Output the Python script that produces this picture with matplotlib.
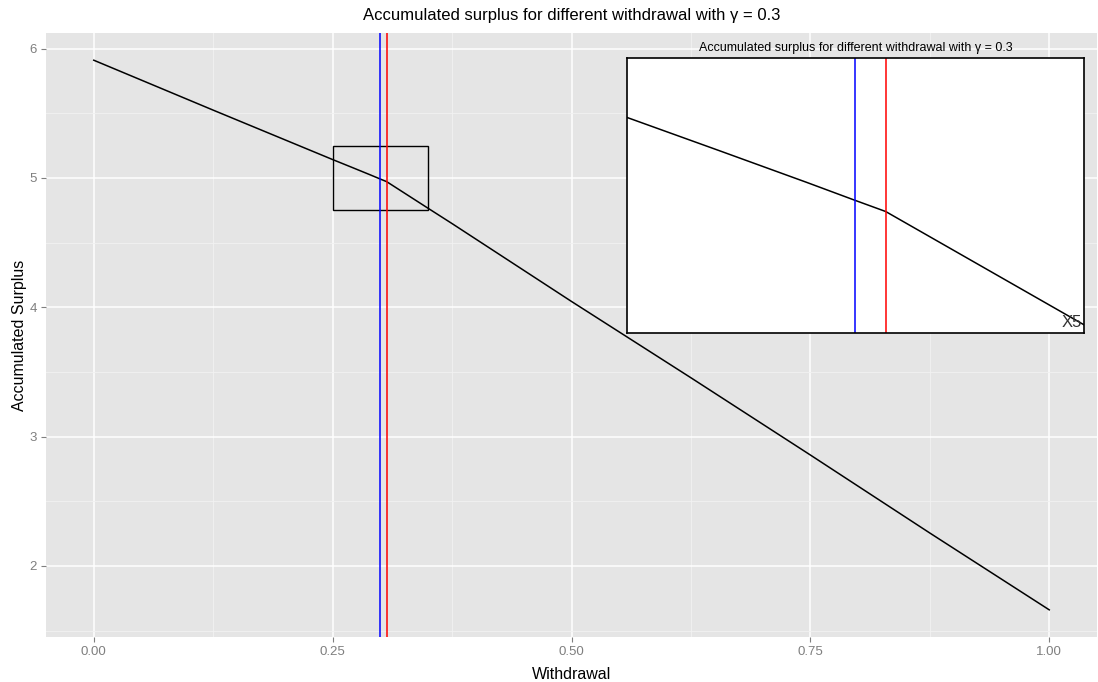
import matplotlib
matplotlib.use("Agg")
import matplotlib.pyplot as plt
from matplotlib.patches import Rectangle
from matplotlib.ticker import MultipleLocator

plt.rcParams.update({
    "font.family": ["Liberation Sans", "DejaVu Sans"],
    "font.size": 11,
})

# accumulated surplus against withdrawal rate
withdrawal = [0.0, 0.125, 0.25, 0.2704, 0.2893, 0.300, 0.3066,
              0.35, 0.375, 0.5, 0.625, 0.75, 0.875, 1.0]
surplus = [5.91, 5.524, 5.142, 5.081, 5.024, 4.991, 4.971,
           4.765, 4.647, 4.045, 3.455, 2.858, 2.255, 1.661]

gamma = 0.3
blue_x = 0.300     # blue reference withdrawal
red_x = 0.3066     # red reference withdrawal
zoom_x = (0.25, 0.35)
zoom_y = (4.75, 5.25)
zoom_factor = 5

title = f"Accumulated surplus for different withdrawal with \u03b3 = {gamma}"

PANEL = "#E5E5E5"
TICK = "#7F7F7F"

fig = plt.figure(figsize=(10.98, 6.82), dpi=100)
ax = fig.add_axes([0.0419, 0.0655, 0.9572, 0.8865])
ax.set_facecolor(PANEL)

ax.plot(withdrawal, surplus, color="black", lw=1.1)
ax.axvline(blue_x, color="#0000FF", lw=1.1)
ax.axvline(red_x, color="#FF0000", lw=1.1)
ax.add_patch(Rectangle((zoom_x[0], zoom_y[0]), zoom_x[1] - zoom_x[0],
                       zoom_y[1] - zoom_y[0], fill=False, ec="black", lw=1.0))

span = max(surplus) - min(surplus)
ax.set_xlim(-0.05, 1.05)
ax.set_ylim(min(surplus) - 0.05 * span, max(surplus) + 0.05 * span)

ax.xaxis.set_major_locator(MultipleLocator(0.25))
ax.xaxis.set_minor_locator(MultipleLocator(0.125))
ax.yaxis.set_major_locator(MultipleLocator(1))
ax.yaxis.set_minor_locator(MultipleLocator(0.5))
ax.xaxis.set_major_formatter(lambda v, p: f"{v:.2f}")
ax.yaxis.set_major_formatter(lambda v, p: f"{v:.0f}")
ax.grid(which="major", color="white", lw=1.1)
ax.grid(which="minor", color="#F2F2F2", lw=0.6)
ax.set_axisbelow(True)
for s in ax.spines.values():
    s.set_visible(False)
ax.tick_params(which="major", length=3.5, width=0.8, color=TICK,
               labelcolor=TICK, labelsize=9.5, pad=3)
ax.tick_params(which="minor", length=0)

ax.set_xlabel("Withdrawal", fontsize=11.5, labelpad=6)
ax.set_ylabel("Accumulated Surplus", fontsize=11.5, labelpad=2)
ax.set_title(title, fontsize=12, pad=9)

# magnified view of the boxed region
ins = fig.add_axes([0.571, 0.5117, 0.4162, 0.4032])
ins.set_facecolor("white")
ins.plot(withdrawal, surplus, color="black", lw=1.1)
ins.axvline(blue_x, color="#0000FF", lw=1.1)
ins.axvline(red_x, color="#FF0000", lw=1.1)
ins.set_xlim(*zoom_x)
ins.set_ylim(*zoom_y)
ins.set_xticks([])
ins.set_yticks([])
for s in ins.spines.values():
    s.set_color("black")
    s.set_linewidth(1.2)
ins.set_title(title, fontsize=9, pad=5)
ins.text(0.995, 0.01, f"X{zoom_factor}", transform=ins.transAxes,
         ha="right", va="bottom", fontsize=12, color="#333333")

fig.savefig("out.png", dpi=100)
